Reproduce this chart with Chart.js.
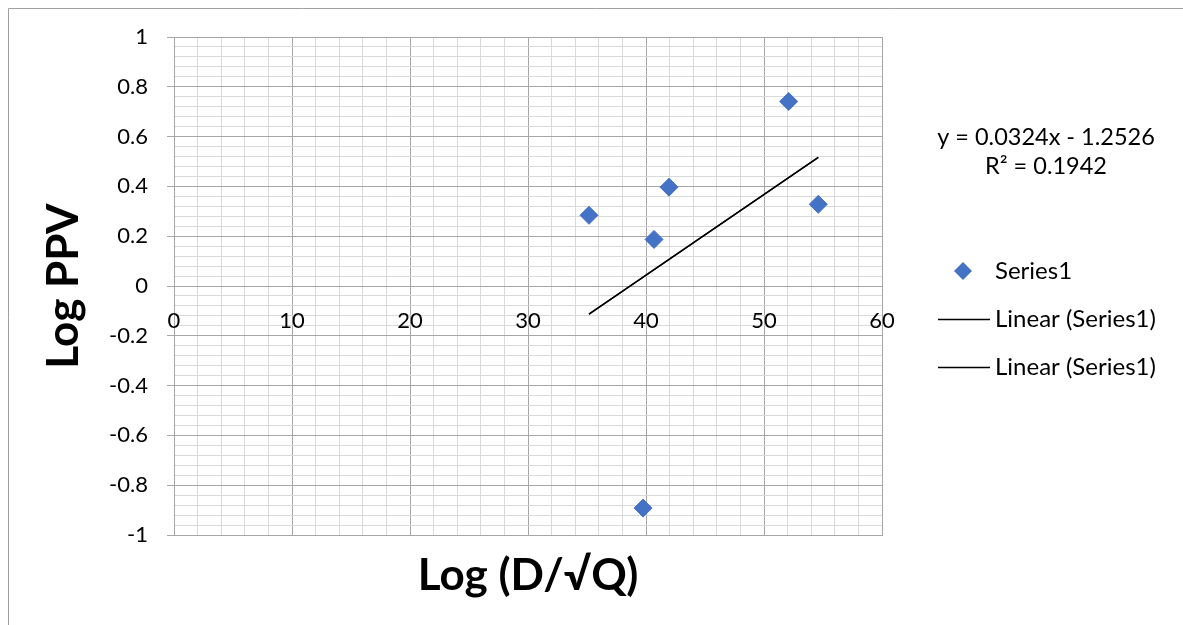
<!DOCTYPE html>
<html>
<head>
<meta charset="utf-8">
<title>Log PPV vs Log (D/√Q)</title>
<script src="https://cdn.jsdelivr.net/npm/chart.js@4/dist/chart.umd.min.js"></script>
<style>
  html, body { margin: 0; padding: 0; background: #fff; }
  #plot { display: block; }
</style>
</head>
<body>
<canvas id="plot" width="1183" height="625"></canvas>
<script>
'use strict';

// ── Data ───────────────────────────────────────────────────
const xValues = [35.17, 41.95, 40.68, 52.09, 54.6, 39.75];
const yValues = [0.284, 0.397, 0.187, 0.741, 0.328, -0.892];

// linear fit as reported on the chart
const trendSlope     = 0.0324;
const trendIntercept = -1.2526;
const trendEquation  = 'y = 0.0324x - 1.2526';
const trendR2        = 'R² = 0.1942';

const xTickLabels = [0, 10, 20, 30, 40, 50, 60];
const yTickLabels = [1, 0.8, 0.6, 0.4, 0.2, 0, -0.2, -0.4, -0.6, -0.8, -1];

const seriesLabel = 'Series1';
const trendLabel  = 'Linear (Series1)';

// ── Style ──────────────────────────────────────────────────
const FONT       = 'Lato, "Open Sans", sans-serif';
const BLUE       = '#4472c4';
const GRID_MAJOR = '#a6a6a6';
const GRID_MINOR = '#d9d9d9';

Chart.defaults.font.family = FONT;
Chart.defaults.color = '#000';

const isMajorY = v => Math.round(v * 100) % 20 === 0;
const isMajorX = v => Math.round(v) % 10 === 0;

const xMin = Math.min(...xValues);
const xMax = Math.max(...xValues);
const trendPoints = [xMin, xMax].map(x => ({ x, y: trendSlope * x + trendIntercept }));

// ── Extra drawing: frame, x labels on the zero line, equation, legend ──
const decorations = {
  id: 'decorations',
  beforeDraw(chart) {
    const { ctx } = chart;
    ctx.save();
    ctx.strokeStyle = '#a0a0a0';
    ctx.lineWidth = 1;
    ctx.beginPath();
    ctx.moveTo(8.5, chart.height + 5);
    ctx.lineTo(8.5, 8.5);
    ctx.lineTo(chart.width + 5, 8.5);
    ctx.stroke();
    ctx.restore();
  },
  afterDraw(chart) {
    const { ctx, scales: { x, y } } = chart;
    ctx.save();

    // x tick labels sit under the y = 0 line
    ctx.fillStyle = '#000';
    ctx.font = `22px ${FONT}`;
    ctx.textAlign = 'center';
    ctx.textBaseline = 'middle';
    const y0 = y.getPixelForValue(0);
    xTickLabels.forEach(v => {
      ctx.fillText(String(v), x.getPixelForValue(v), y0 + 35);
    });

    // trendline equation
    ctx.font = `23.5px ${FONT}`;
    ctx.fillText(trendEquation, 1046, 137);
    ctx.fillText(trendR2, 1046, 166);

    // legend
    const legendX = 995;
    const rows = [271, 319, 367];
    ctx.textAlign = 'left';
    ctx.font = `24px ${FONT}`;
    chart.data.datasets.forEach((ds, i) => {
      const ly = rows[i];
      if (ds.type === 'scatter') {
        ctx.fillStyle = BLUE;
        ctx.beginPath();
        ctx.moveTo(963, ly - 9);
        ctx.lineTo(972, ly);
        ctx.lineTo(963, ly + 9);
        ctx.lineTo(954, ly);
        ctx.closePath();
        ctx.fill();
      } else {
        ctx.strokeStyle = '#000';
        ctx.lineWidth = 1.3;
        ctx.beginPath();
        ctx.moveTo(938, ly + 0.5);
        ctx.lineTo(990, ly + 0.5);
        ctx.stroke();
      }
      ctx.fillStyle = '#000';
      ctx.fillText(ds.label, legendX, ly);
    });

    ctx.restore();
  }
};

new Chart(document.getElementById('plot'), {
  type: 'scatter',
  data: {
    datasets: [
      {
        type: 'scatter',
        label: seriesLabel,
        data: xValues.map((x, i) => ({ x, y: yValues[i] })),
        pointStyle: 'rectRot',
        pointRadius: 9,
        pointBackgroundColor: BLUE,
        pointBorderColor: BLUE,
        pointBorderWidth: 1,
        order: 0
      },
      {
        type: 'line',
        label: trendLabel,
        data: trendPoints,
        borderColor: '#000',
        borderWidth: 1.3,
        pointRadius: 0,
        fill: false,
        order: 1
      },
      {
        type: 'line',
        label: trendLabel,
        data: trendPoints,
        borderColor: '#000',
        borderWidth: 1.3,
        pointRadius: 0,
        fill: false,
        order: 2
      }
    ]
  },
  options: {
    responsive: false,
    animation: false,
    layout: { padding: { top: 37, right: 301, left: 0, bottom: 0 } },
    plugins: {
      legend: { display: false },
      tooltip: { enabled: false }
    },
    scales: {
      x: {
        type: 'linear',
        min: 0,
        max: 60,
        ticks: { stepSize: 2, display: false, autoSkip: false },
        grid: {
          drawTicks: false,
          color: ctx => isMajorX(ctx.tick.value) ? GRID_MAJOR : GRID_MINOR
        },
        border: { color: GRID_MAJOR },
        title: {
          display: true,
          text: 'Log (D/√Q)',
          font: { size: 44, weight: 'bold' },
          padding: { top: 0, bottom: 23 }
        },
        afterFit(scale) { scale.height = 90; }
      },
      y: {
        type: 'linear',
        min: -1,
        max: 1,
        ticks: {
          stepSize: 0.04,
          autoSkip: false,
          padding: 19,
          font: { size: 22 },
          callback: v => {
            const r = Math.round(v * 10) / 10;
            return isMajorY(v) && yTickLabels.includes(r) ? String(r) : '';
          }
        },
        grid: {
          tickLength: 7,
          color: ctx => isMajorY(ctx.tick.value) ? GRID_MAJOR : GRID_MINOR,
          tickColor: ctx => isMajorY(ctx.tick.value) ? GRID_MAJOR : 'rgba(0,0,0,0)'
        },
        border: { color: GRID_MAJOR },
        title: {
          display: true,
          text: 'Log PPV',
          font: { size: 44, weight: 'bold' },
          padding: { top: 37, bottom: 0 }
        },
        afterFit(scale) { scale.width = 174; }
      }
    }
  },
  plugins: [decorations]
});
</script>
</body>
</html>
